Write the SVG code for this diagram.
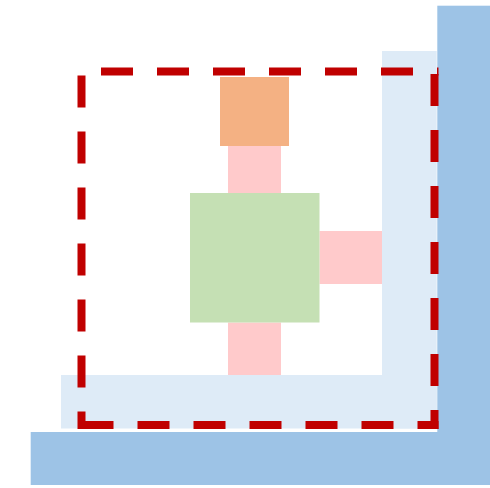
<svg xmlns="http://www.w3.org/2000/svg" width="490" height="488" viewBox="0 0 490 488">
<style>
.dark{fill:#9DC3E6}
.light{fill:#DEEBF7}
.pink{fill:#FFCACB}
.orange{fill:#F4B183}
.green{fill:#C5E0B4}
.dash{stroke:#C00000;stroke-width:8;stroke-dasharray:32 24;fill:none}
</style>
<rect width="490" height="488" fill="#FFFFFF"/>
<g id="outer-wall">
<rect class="dark" x="437.3" y="5.7" width="52.7" height="479.3"/>
<rect class="dark" x="30.7" y="432" width="459.3" height="53"/>
</g>
<g id="inner-wall">
<rect class="light" x="382" y="51" width="54.7" height="377.5"/>
<rect class="light" x="61" y="375" width="375.7" height="53.5"/>
</g>
<g id="top-block">
<rect class="orange" x="220" y="77" width="69" height="69"/>
</g>
<g id="connectors">
<rect class="pink" x="228" y="146" width="53" height="47"/>
<rect class="pink" x="228" y="322.5" width="53" height="52.5"/>
<rect class="pink" x="319.5" y="231" width="62.5" height="53"/>
</g>
<g id="center-block">
<rect class="green" x="190" y="193" width="129.5" height="129.5"/>
</g>
<g id="boundary">
<line class="dash" x1="77.5" y1="71.5" x2="438.5" y2="71.5" stroke-dashoffset="32.5"/>
<line class="dash" x1="434.5" y1="67.5" x2="434.5" y2="429" stroke-dashoffset="49.5"/>
<line class="dash" x1="81.5" y1="425" x2="438.5" y2="425"/>
<line class="dash" x1="81.5" y1="67.5" x2="81.5" y2="429" stroke-dashoffset="48"/>
</g>
</svg>
